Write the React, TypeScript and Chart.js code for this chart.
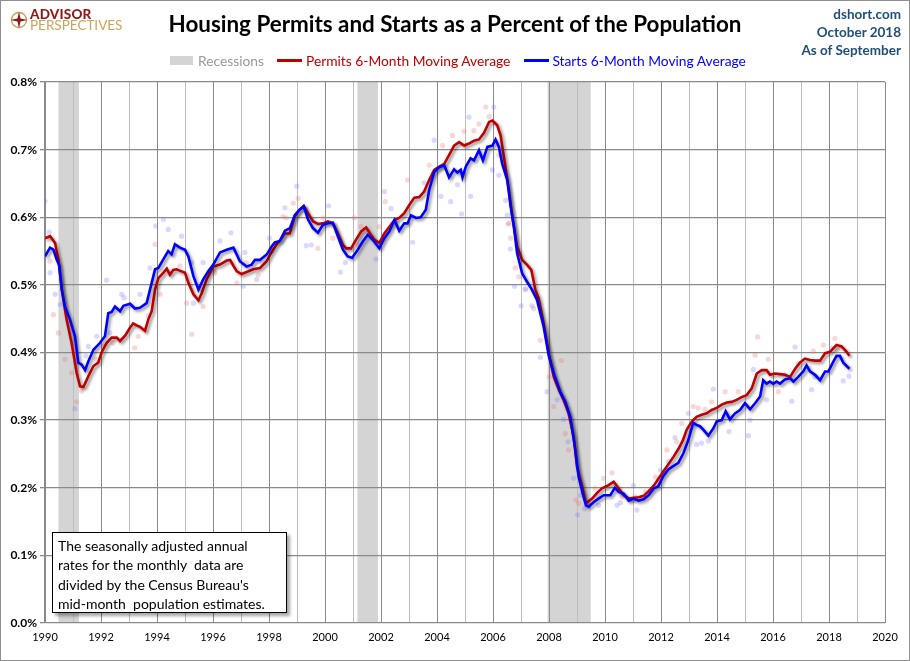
import React, { useEffect, useRef } from "react";
import { Chart, registerables } from "chart.js";
Chart.register(...registerables);

// ---------- DATA ----------
const permitsX = [1990.00,1990.18,1990.36,1990.48,1990.60,1990.77,1990.95,1991.13,1991.25,1991.37,1991.55,1991.73,1991.90,1992.02,1992.20,1992.38,1992.56,1992.68,1992.86,1993.04,1993.15,1993.27,1993.39,1993.57,1993.69,1993.81,1993.93,1994.05,1994.23,1994.35,1994.46,1994.58,1994.70,1994.88,1995.00,1995.12,1995.30,1995.48,1995.60,1995.77,1996.01,1996.25,1996.49,1996.61,1996.73,1996.85,1997.02,1997.20,1997.44,1997.68,1997.92,1998.04,1998.27,1998.40,1998.56,1998.74,1998.92,1999.09,1999.24,1999.39,1999.57,1999.75,1999.93,2000.10,2000.28,2000.46,2000.64,2000.76,2000.93,2001.11,2001.29,2001.47,2001.59,2001.76,2001.94,2002.12,2002.30,2002.48,2002.65,2002.83,2003.01,2003.19,2003.37,2003.54,2003.72,2003.90,2004.08,2004.26,2004.43,2004.61,2004.79,2004.97,2005.14,2005.32,2005.50,2005.68,2005.86,2005.98,2006.15,2006.27,2006.39,2006.57,2006.70,2006.86,2007.04,2007.21,2007.37,2007.51,2007.63,2007.81,2007.99,2008.17,2008.35,2008.52,2008.70,2008.88,2009.00,2009.18,2009.32,2009.54,2009.71,2009.89,2010.13,2010.31,2010.49,2010.67,2010.85,2011.02,2011.20,2011.38,2011.56,2011.74,2011.92,2012.10,2012.27,2012.45,2012.63,2012.78,2012.92,2013.10,2013.27,2013.45,2013.63,2013.81,2013.99,2014.17,2014.35,2014.52,2014.70,2014.88,2015.06,2015.24,2015.42,2015.60,2015.77,2015.89,2016.07,2016.25,2016.43,2016.61,2016.79,2016.96,2017.14,2017.32,2017.50,2017.68,2017.86,2018.04,2018.15,2018.27,2018.45,2018.63,2018.73];
const permitsY = [0.569,0.572,0.562,0.537,0.493,0.449,0.414,0.370,0.350,0.349,0.365,0.380,0.385,0.400,0.414,0.422,0.422,0.417,0.425,0.437,0.443,0.440,0.438,0.432,0.449,0.461,0.493,0.510,0.518,0.524,0.515,0.522,0.523,0.520,0.518,0.503,0.486,0.477,0.488,0.508,0.527,0.530,0.536,0.537,0.528,0.520,0.516,0.519,0.523,0.525,0.535,0.545,0.560,0.566,0.576,0.576,0.601,0.611,0.617,0.606,0.594,0.590,0.591,0.594,0.591,0.576,0.559,0.554,0.554,0.567,0.579,0.585,0.577,0.567,0.562,0.576,0.586,0.596,0.599,0.606,0.618,0.629,0.630,0.638,0.655,0.670,0.675,0.679,0.692,0.706,0.711,0.706,0.709,0.713,0.715,0.725,0.741,0.743,0.736,0.721,0.689,0.640,0.598,0.557,0.537,0.530,0.522,0.493,0.480,0.443,0.399,0.364,0.345,0.330,0.310,0.276,0.231,0.202,0.177,0.184,0.192,0.199,0.204,0.209,0.199,0.189,0.184,0.185,0.186,0.188,0.195,0.203,0.214,0.225,0.235,0.246,0.258,0.270,0.286,0.298,0.305,0.308,0.310,0.315,0.318,0.323,0.326,0.327,0.330,0.334,0.337,0.347,0.369,0.374,0.374,0.367,0.369,0.368,0.367,0.364,0.376,0.385,0.391,0.389,0.388,0.388,0.399,0.401,0.406,0.411,0.409,0.401,0.395];

const startsX = [1990.00,1990.18,1990.30,1990.42,1990.51,1990.60,1990.71,1990.89,1991.07,1991.19,1991.31,1991.43,1991.55,1991.73,1991.96,1992.14,1992.26,1992.38,1992.50,1992.68,1992.80,1993.04,1993.21,1993.39,1993.63,1993.81,1993.93,1994.05,1994.23,1994.40,1994.52,1994.64,1994.82,1995.00,1995.12,1995.30,1995.48,1995.65,1995.83,1996.01,1996.25,1996.49,1996.73,1996.96,1997.20,1997.38,1997.50,1997.68,1997.92,1998.10,1998.21,1998.39,1998.57,1998.75,1998.92,1999.09,1999.24,1999.39,1999.57,1999.75,1999.93,2000.10,2000.28,2000.46,2000.64,2000.81,2000.97,2001.17,2001.35,2001.53,2001.70,2001.94,2002.12,2002.30,2002.48,2002.65,2002.83,2002.95,2003.07,2003.25,2003.42,2003.60,2003.72,2003.90,2004.08,2004.26,2004.43,2004.61,2004.73,2004.85,2004.91,2005.03,2005.20,2005.32,2005.50,2005.64,2005.80,2005.98,2006.09,2006.21,2006.33,2006.51,2006.63,2006.75,2006.86,2007.04,2007.21,2007.39,2007.57,2007.81,2007.99,2008.17,2008.40,2008.58,2008.76,2008.94,2009.06,2009.20,2009.32,2009.42,2009.60,2009.77,2009.95,2010.19,2010.35,2010.49,2010.67,2010.85,2011.02,2011.20,2011.38,2011.56,2011.74,2011.90,2012.08,2012.26,2012.44,2012.62,2012.80,2012.98,2013.15,2013.27,2013.39,2013.51,2013.69,2013.87,2013.99,2014.17,2014.31,2014.46,2014.64,2014.82,2015.00,2015.18,2015.36,2015.54,2015.65,2015.77,2015.89,2016.01,2016.13,2016.25,2016.43,2016.61,2016.73,2016.90,2017.08,2017.20,2017.32,2017.50,2017.68,2017.86,2017.98,2018.15,2018.27,2018.39,2018.51,2018.73];
const startsY = [0.542,0.555,0.552,0.537,0.529,0.493,0.468,0.449,0.424,0.385,0.382,0.374,0.387,0.404,0.414,0.424,0.458,0.460,0.468,0.461,0.469,0.472,0.465,0.466,0.473,0.503,0.523,0.525,0.538,0.550,0.545,0.560,0.555,0.552,0.542,0.513,0.493,0.508,0.520,0.530,0.548,0.552,0.555,0.535,0.527,0.530,0.537,0.537,0.545,0.557,0.563,0.565,0.580,0.584,0.603,0.611,0.616,0.597,0.584,0.577,0.589,0.591,0.592,0.572,0.552,0.542,0.540,0.552,0.564,0.574,0.567,0.554,0.569,0.579,0.596,0.580,0.591,0.591,0.603,0.599,0.600,0.611,0.640,0.667,0.674,0.677,0.659,0.671,0.666,0.670,0.659,0.675,0.687,0.684,0.699,0.684,0.704,0.706,0.715,0.704,0.679,0.655,0.616,0.585,0.547,0.517,0.505,0.493,0.478,0.438,0.396,0.369,0.342,0.327,0.305,0.256,0.216,0.192,0.174,0.172,0.179,0.184,0.189,0.189,0.200,0.194,0.191,0.181,0.184,0.181,0.183,0.189,0.199,0.202,0.217,0.227,0.232,0.237,0.251,0.271,0.296,0.293,0.291,0.286,0.277,0.288,0.298,0.300,0.313,0.301,0.310,0.315,0.325,0.316,0.325,0.335,0.359,0.354,0.357,0.354,0.357,0.354,0.360,0.362,0.357,0.364,0.372,0.381,0.372,0.367,0.359,0.372,0.372,0.386,0.395,0.395,0.385,0.376];

const permitsRawX = [1990.18,1990.30,1990.48,1990.71,1990.95,1991.13,1991.31,1991.83,1992.08,1992.44,1993.20,1993.33,1993.69,1993.93,1994.11,1994.82,1995.06,1995.24,1995.65,1996.07,1996.85,1997.20,1997.62,1998.10,1998.50,1998.62,1998.87,1999.04,1999.75,1999.93,2000.28,2001.05,2001.17,2001.29,2001.94,2002.15,2002.95,2003.72,2004.20,2004.55,2004.97,2005.32,2005.50,2005.74,2005.86,2006.21,2006.54,2006.57,2006.63,2006.80,2006.92,2007.16,2007.45,2007.69,2008.00,2008.17,2008.44,2008.58,2008.70,2008.96,2009.06,2009.65,2009.95,2010.25,2010.61,2011.08,2011.44,2011.80,2012.21,2012.56,2012.74,2013.15,2013.33,2013.57,2013.81,2014.29,2014.76,2015.36,2015.45,2015.83,2016.19,2016.43,2016.90,2017.44,2017.80,2018.21,2018.30];
const permitsRawY = [0.535,0.456,0.429,0.390,0.370,0.327,0.343,0.390,0.409,0.414,0.407,0.424,0.454,0.560,0.486,0.528,0.473,0.427,0.468,0.518,0.503,0.533,0.515,0.550,0.601,0.599,0.621,0.628,0.554,0.599,0.569,0.599,0.559,0.586,0.586,0.623,0.655,0.677,0.706,0.721,0.727,0.728,0.738,0.763,0.749,0.692,0.590,0.591,0.569,0.525,0.512,0.494,0.465,0.418,0.364,0.320,0.388,0.280,0.256,0.182,0.177,0.199,0.214,0.222,0.187,0.187,0.194,0.216,0.256,0.268,0.295,0.320,0.318,0.316,0.327,0.342,0.342,0.396,0.423,0.390,0.342,0.367,0.384,0.402,0.411,0.421,0.404];

const startsRawX = [1990.00,1990.15,1990.18,1990.36,1990.54,1991.07,1991.46,1991.55,1991.85,1992.20,1992.32,1992.74,1992.82,1993.39,1993.75,1993.95,1994.23,1994.40,1994.88,1995.24,1995.30,1995.65,1996.25,1996.64,1997.08,1997.14,1997.56,1998.01,1998.57,1998.99,1999.33,1999.51,2000.13,2000.55,2000.73,2001.82,2002.12,2002.36,2003.13,2003.54,2003.90,2004.14,2004.49,2004.73,2004.88,2005.14,2005.20,2005.98,2006.03,2006.21,2006.45,2006.51,2006.62,2006.77,2007.01,2007.15,2007.39,2007.69,2007.93,2008.29,2008.52,2008.68,2008.88,2009.02,2009.12,2009.27,2009.77,2010.43,2010.55,2011.02,2011.14,2011.98,2012.27,2012.50,2012.98,2013.27,2013.45,2013.69,2013.87,2014.43,2015.12,2015.18,2015.30,2015.77,2016.67,2016.79,2017.38,2017.50,2018.10,2018.51,2018.71];
const startsRawY = [0.624,0.578,0.518,0.486,0.471,0.317,0.395,0.409,0.424,0.507,0.429,0.486,0.481,0.486,0.525,0.587,0.597,0.582,0.572,0.533,0.473,0.533,0.565,0.577,0.498,0.548,0.508,0.569,0.614,0.646,0.558,0.559,0.617,0.519,0.533,0.538,0.638,0.613,0.563,0.651,0.714,0.631,0.623,0.648,0.605,0.748,0.631,0.670,0.763,0.662,0.625,0.603,0.553,0.498,0.469,0.493,0.469,0.393,0.342,0.330,0.301,0.268,0.214,0.160,0.189,0.169,0.174,0.174,0.178,0.203,0.167,0.226,0.239,0.274,0.310,0.264,0.266,0.269,0.346,0.283,0.277,0.300,0.375,0.330,0.328,0.408,0.345,0.364,0.406,0.358,0.365];

const recessionStart = [1990.48, 2001.16, 2007.95];
const recessionEnd = [1991.21, 2001.89, 2009.49];

const yMin = 0;
const yMax = 0.8;
const yStep = 0.1;
const xMin = 1990;
const xMax = 2020;

const titleText = "Housing Permits and Starts as a Percent of the Population";
const legendLabels = ["Recessions", "Permits 6-Month Moving Average", "Starts 6-Month Moving Average"];
const noteLines = [
  "The seasonally adjusted annual",
  "rates for the monthly  data are",
  "divided by the Census Bureau's",
  "mid-month  population estimates.",
];
const sourceLines = ["dshort.com", "October 2018", "As of September"];

// ---------- STYLE ----------
const RED = "#c00000";
const BLUE = "#0000ff";
const FONT = "Lato, 'Open Sans', sans-serif";

const toPts = (xs: number[], ys: number[]) => xs.map((x, i) => ({ x, y: ys[i] }));

const recessionPlugin = {
  id: "recessions",
  beforeDraw(chart: any) {
    const { ctx, chartArea, scales } = chart;
    const xs = scales.x;
    ctx.save();
    ctx.fillStyle = "#d4d4d4";
    recessionStart.forEach((s, i) => {
      const x1 = xs.getPixelForValue(s);
      const x2 = xs.getPixelForValue(recessionEnd[i]);
      ctx.fillRect(x1, chartArea.top, x2 - x1, chartArea.bottom - chartArea.top);
    });
    ctx.restore();
  },
};

const shadowPlugin = {
  id: "lineShadow",
  beforeDatasetDraw(chart: any, args: any) {
    const ds = chart.data.datasets[args.index];
    if (ds.showLine === false) return;
    const ctx = chart.ctx;
    ctx.save();
    ctx.shadowColor = "rgba(0,0,0,0.45)";
    ctx.shadowBlur = 3;
    ctx.shadowOffsetX = 2;
    ctx.shadowOffsetY = 2;
  },
  afterDatasetDraw(chart: any, args: any) {
    const ds = chart.data.datasets[args.index];
    if (ds.showLine === false) return;
    chart.ctx.restore();
  },
};

export default function App() {
  const canvasRef = useRef<HTMLCanvasElement | null>(null);

  useEffect(() => {
    if (!canvasRef.current) return;
    const chart = new Chart(canvasRef.current, {
      type: "line",
      data: {
        datasets: [
          {
            label: "Starts 6-Month Moving Average",
            data: toPts(startsX, startsY),
            borderColor: BLUE,
            borderWidth: 2.6,
            pointRadius: 0,
            tension: 0,
            fill: false,
            order: 1,
          },
          {
            label: "Permits 6-Month Moving Average",
            data: toPts(permitsX, permitsY),
            borderColor: RED,
            borderWidth: 2.6,
            pointRadius: 0,
            tension: 0,
            fill: false,
            order: 2,
          },
          {
            label: "Starts monthly",
            data: toPts(startsRawX, startsRawY),
            showLine: false,
            pointRadius: 2.6,
            pointBorderWidth: 0,
            pointBackgroundColor: "rgba(120,120,255,0.28)",
            borderColor: "rgba(0,0,0,0)",
            order: 3,
          },
          {
            label: "Permits monthly",
            data: toPts(permitsRawX, permitsRawY),
            showLine: false,
            pointRadius: 2.6,
            pointBorderWidth: 0,
            pointBackgroundColor: "rgba(230,110,110,0.28)",
            borderColor: "rgba(0,0,0,0)",
            order: 4,
          },
        ] as any,
      },
      options: {
        animation: false,
        responsive: false,
        maintainAspectRatio: false,
        layout: { padding: { left: 0, top: 82, right: 25, bottom: 0 } },
        plugins: {
          legend: { display: false },
          title: { display: false },
          tooltip: { enabled: false },
        },
        scales: {
          x: {
            type: "linear",
            min: xMin,
            max: xMax,
            afterFit: (scale: any) => {
              scale.height = 38;
            },
            ticks: {
              stepSize: 1,
              autoSkip: false,
              maxRotation: 0,
              padding: 8,
              color: "#000",
              font: { family: FONT, size: 11 },
              callback: (v: any) => (Math.round(v) % 2 === 0 ? String(Math.round(v)) : ""),
            },
            grid: {
              drawTicks: false,
              lineWidth: 1,
              color: (ctx: any) =>
                ctx.tick && Math.round(ctx.tick.value) % 2 === 0 ? "#8a8a8a" : "#bdbdbd",
            },
            border: { display: false },
          },
          y: {
            min: yMin,
            max: yMax,
            afterFit: (scale: any) => {
              scale.width = 45;
            },
            ticks: {
              stepSize: yStep,
              padding: 3,
              color: "#000",
              font: { family: FONT, size: 12, weight: "bold" },
              callback: (v: any) => Number(v).toFixed(1) + "%",
            },
            grid: {
              color: "#8a8a8a",
              lineWidth: 1.3,
              tickLength: 5,
            },
            border: { display: true, color: "#8a8a8a", width: 1.3 },
          },
        },
      } as any,
      plugins: [recessionPlugin, shadowPlugin],
    });
    return () => chart.destroy();
  }, []);

  return (
    <div
      style={{
        position: "absolute",
        left: 0,
        top: 0,
        width: 910,
        height: 661,
        background: "#fff",
        fontFamily: FONT,
        overflow: "hidden",
      }}
    >
      <canvas ref={canvasRef} width={910} height={661} style={{ position: "absolute", left: 0, top: 0 }} />

      {/* Logo */}
      <div style={{ position: "absolute", left: 10, top: 9, display: "flex", alignItems: "center" }}>
        <svg width="18" height="18" viewBox="0 0 18 18">
          <circle cx="9" cy="9" r="7.5" fill="none" stroke="#c9a45c" strokeWidth="1.4" />
          <polygon points="9,0.5 10.5,7.5 17.5,9 10.5,10.5 9,17.5 7.5,10.5 0.5,9 7.5,7.5" fill="#8b1b1b" />
        </svg>
        <div style={{ marginLeft: 2, lineHeight: "11px" }}>
          <div style={{ color: "#8b1b1b", fontWeight: 900, fontSize: 13.5, letterSpacing: 0.2 }}>ADVISOR</div>
          <div style={{ color: "#c9a45c", fontWeight: 400, fontSize: 13.5, letterSpacing: 0 }}>PERSPECTIVES</div>
        </div>
      </div>

      {/* Title */}
      <div
        style={{
          position: "absolute",
          left: 0,
          width: 910,
          top: 10,
          textAlign: "center",
          fontWeight: 700,
          fontSize: 22.4,
          color: "#000",
        }}
      >
        {titleText}
      </div>

      {/* Source */}
      <div
        style={{
          position: "absolute",
          right: 9,
          top: 5,
          textAlign: "right",
          color: "#1f4e79",
          fontWeight: 700,
          fontSize: 13.5,
          lineHeight: "18px",
        }}
      >
        {sourceLines.map((s) => (
          <div key={s}>{s}</div>
        ))}
      </div>

      {/* Legend */}
      <div
        style={{
          position: "absolute",
          left: 170,
          top: 52,
          display: "flex",
          alignItems: "center",
          fontSize: 13.8,
          whiteSpace: "nowrap",
        }}
      >
        <span style={{ display: "inline-block", width: 23, height: 9, background: "#d4d4d4", marginRight: 5 }} />
        <span style={{ color: "#999" }}>{legendLabels[0]}</span>
        <span style={{ display: "inline-block", width: 25, height: 2.5, background: RED, marginLeft: 13, marginRight: 4 }} />
        <span style={{ color: RED }}>{legendLabels[1]}</span>
        <span style={{ display: "inline-block", width: 25, height: 2.5, background: BLUE, marginLeft: 14, marginRight: 3 }} />
        <span style={{ color: BLUE }}>{legendLabels[2]}</span>
      </div>

      {/* Note box */}
      <div
        style={{
          position: "absolute",
          left: 52,
          top: 532,
          width: 235,
          height: 81,
          boxSizing: "border-box",
          border: "1px solid #000",
          background: "#fff",
          boxShadow: "3px 3px 3px rgba(0,0,0,0.35)",
          padding: "3px 0 0 5px",
          fontSize: 14,
          lineHeight: "19.3px",
          color: "#000",
          whiteSpace: "pre",
        }}
      >
        {noteLines.map((l) => (
          <div key={l}>{l}</div>
        ))}
      </div>

      {/* Outer border */}
      <div
        style={{
          position: "absolute",
          left: 0,
          top: 0,
          width: 910,
          height: 661,
          boxSizing: "border-box",
          border: "1px solid #8f8f8f",
          pointerEvents: "none",
        }}
      />
    </div>
  );
}
